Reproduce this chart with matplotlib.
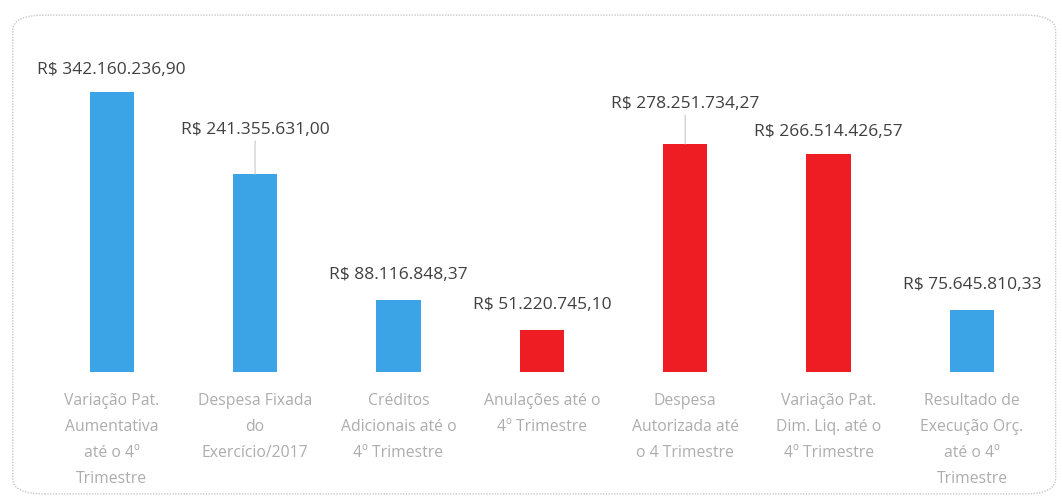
import matplotlib.pyplot as plt
from matplotlib.patches import FancyBboxPatch

# ==========================================
# DATA
# ==========================================
categories = [
    "Variação Pat.\nAumentativa\naté o 4º\nTrimestre",
    "Despesa Fixada\ndo\nExercício/2017",
    "Créditos\nAdicionais até o\n4º Trimestre",
    "Anulações até o\n4º Trimestre",
    "Despesa\nAutorizada até\no 4 Trimestre",
    "Variação Pat.\nDim. Liq. até o\n4º Trimestre",
    "Resultado de\nExecução Orç.\naté o 4º\nTrimestre",
]
values = [342160236.90, 241355631.00, 88116848.37, 51220745.10,
          278251734.27, 266514426.57, 75645810.33]
value_labels = ["R$ 342.160.236,90", "R$ 241.355.631,00", "R$ 88.116.848,37",
                "R$ 51.220.745,10", "R$ 278.251.734,27", "R$ 266.514.426,57",
                "R$ 75.645.810,33"]
series_color = ["blue", "blue", "blue", "red", "red", "red", "blue"]
# label offset above the bar top (points); larger ones get a leader line
label_offsets = [10, 26, 12, 12, 23, 10, 12]

COLORS = {"blue": "#3BA4E6", "red": "#EE1D23"}

plt.rcParams['font.family'] = ['Open Sans', 'DejaVu Sans']

fig = plt.figure(figsize=(10.62, 5.04), dpi=100)
ax = fig.add_axes([0.0377, 0.262, 0.945, 0.65])

# rounded frame around the chart
frame = FancyBboxPatch((0.012, 0.02), 0.982, 0.95,
                       boxstyle="round,pad=0,rounding_size=0.03",
                       transform=fig.transFigure, fill=False,
                       edgecolor="#c8c8c8", linewidth=1.0, linestyle=(0, (1, 1)))
fig.patches.append(frame)

x = range(len(categories))
bars = ax.bar(x, values, width=0.31, color=[COLORS[c] for c in series_color])

for i, (v, lab, off) in enumerate(zip(values, value_labels, label_offsets)):
    ax.annotate(lab, xy=(i, v), xytext=(0, off), textcoords="offset points",
                ha="center", va="bottom", fontsize=12.5, color="#404040",
                arrowprops=dict(arrowstyle="-", color="#c8c8c8", lw=0.8,
                                shrinkA=0, shrinkB=0) if off > 20 else None)

ax.set_xlim(-0.5, len(categories) - 0.5)
ax.set_ylim(0, 400e6)
ax.set_xticks(list(x))
ax.set_xticklabels(categories, fontsize=11.3, color="#adadad", linespacing=1.85)
ax.tick_params(axis="x", length=0, pad=15)
ax.set_yticks([])
for s in ax.spines.values():
    s.set_visible(False)

plt.savefig("out.png", dpi=100)
